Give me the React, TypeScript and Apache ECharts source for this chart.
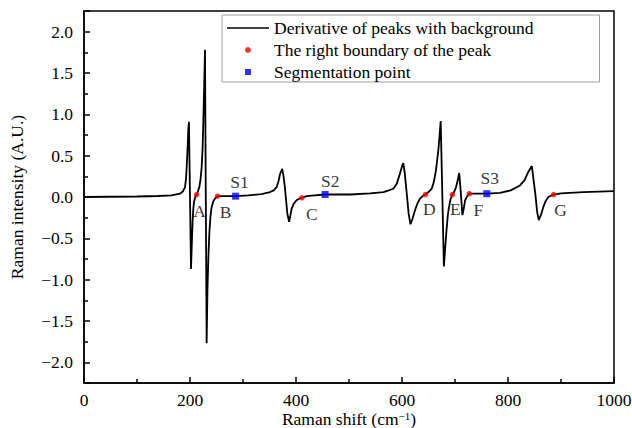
import React, { useEffect, useRef } from "react";
import * as echarts from "echarts";

const FONT = "Liberation Serif";

// Derivative curve (Raman shift, intensity)
const curve: [number, number][] = [
  [0, 0.0], [50, 0.003], [100, 0.006], [140, 0.012], [165, 0.02], [181, 0.04], [187, 0.07],
  [190.6, 0.12], [192.5, 0.22], [193.7, 0.36], [195.5, 0.6], [196.8, 0.81], [198, 0.91],
  [200, 0.0], [201.9, -0.87], [203.5, -0.55], [205, -0.28], [206.3, -0.14], [207.5, -0.06],
  [210, 0.0], [212.6, 0.03], [215, 0.07], [217.6, 0.12], [220, 0.22], [222, 0.36],
  [223.8, 0.6], [225.2, 0.93], [226.8, 1.35], [228.3, 1.78], [229.8, 0.0], [231.4, -1.77],
  [233, -1.1], [234.8, -0.7], [236.5, -0.44], [238.5, -0.24], [240.9, -0.12], [244, -0.05],
  [247, -0.02], [252, 0.01], [270, 0.01], [286, 0.01], [310, 0.02], [335, 0.035], [351, 0.06],
  [358, 0.08], [363.5, 0.12], [367, 0.19], [370, 0.28], [374, 0.34], [376.5, 0.25],
  [379, 0.12], [381.5, -0.05], [383.6, -0.2], [387, -0.3], [389.5, -0.22], [391.8, -0.14],
  [396, -0.08], [401, -0.04], [406, -0.02], [411, -0.01], [420, 0.01], [435, 0.02],
  [455, 0.03], [480, 0.03], [502, 0.03], [540, 0.045], [565, 0.06], [575, 0.08],
  [583.6, 0.1], [590, 0.16], [596, 0.28], [600, 0.37], [602.5, 0.41], [605, 0.3],
  [609, 0.04], [612.5, -0.2], [616, -0.33], [620, -0.26], [624.5, -0.16], [629, -0.08],
  [634, -0.02], [639, 0.01], [644, 0.03], [650, 0.06], [656, 0.1], [660, 0.18], [664, 0.32],
  [668.5, 0.56], [671, 0.75], [673, 0.92], [676, 0.05], [679, -0.84], [681.5, -0.62],
  [684, -0.4], [686.5, -0.22], [688.7, -0.12], [691.5, -0.03], [695, 0.03], [699, 0.07],
  [702, 0.12], [705, 0.2], [708, 0.29], [711, 0.05], [714, -0.22], [716.5, -0.14],
  [719, -0.04], [723, 0.01], [727, 0.04], [740, 0.04], [760, 0.04], [785, 0.05], [805, 0.08],
  [822.6, 0.14], [831, 0.2], [838, 0.3], [845, 0.375], [848, 0.22], [851.5, 0.04],
  [855, -0.18], [858, -0.28], [862, -0.22], [866.7, -0.12], [871, -0.05], [876, 0.0],
  [886, 0.03], [900, 0.045], [942, 0.06], [1000, 0.07],
];

// Right boundaries of peaks
const boundaryNames = ["A", "B", "C", "D", "E", "F", "G"];
const boundaryX = [212.6, 252, 411, 644, 695, 727, 886];
const boundaryY = [0.03, 0.01, -0.01, 0.03, 0.03, 0.04, 0.03];

// Segmentation points
const segNames = ["S1", "S2", "S3"];
const segX = [286, 455, 760];
const segY = [0.01, 0.03, 0.04];

// Label placement (style)
const boundaryLabelOffsets: [number, number][] = [
  [3, 16], [8, 16], [10, 16], [4, 14], [3, 14], [9, 16], [7, 15],
];
const segLabelOffsets: [number, number][] = [[4, -14], [5, -14], [3, -16]];

const SERIES_NAMES = [
  "Derivative of peaks with background",
  "The right boundary of the peak",
  "Segmentation point",
];

const FS = 17.5;

export default function App() {
  const ref = useRef<HTMLDivElement>(null);
  useEffect(() => {
    if (!ref.current) return;
    const chart = echarts.init(ref.current, undefined, { renderer: "svg" });
    const axisCommon = {
      axisLine: { show: true, onZero: false, lineStyle: { color: "#000", width: 1.5 } },
      axisTick: { show: true, inside: true, length: 6, lineStyle: { color: "#000", width: 1.5 } },
      minorTick: { show: true, splitNumber: 2, length: 4, lineStyle: { color: "#000", width: 1.5 } },
      splitLine: { show: false },
    };
    const option: any = {
      animation: false,
      textStyle: { fontFamily: FONT },
      grid: {
        left: 84, right: 18, top: 11, bottom: 45,
        outerBoundsMode: "none",
        containLabel: false,
        show: true, borderColor: "#000", borderWidth: 1.5, backgroundColor: "transparent",
      },
      legend: {
        orient: "vertical",
        left: 222,
        top: 15,
        itemWidth: 42,
        itemHeight: 6,
        itemGap: 4,
        padding: [4, 66, 1, 5],
        backgroundColor: "#fff",
        borderColor: "#a0a0a0",
        borderWidth: 1,
        textStyle: { fontFamily: FONT, fontSize: FS, color: "#000" },
        data: [
          { name: SERIES_NAMES[0], icon: "path://M0,0H42V1.6H0Z" },
          { name: SERIES_NAMES[1], icon: "circle" },
          { name: SERIES_NAMES[2], icon: "path://M0,0H1V1H0Z" },
        ],
      },
      xAxis: {
        type: "value",
        min: 0,
        max: 1000,
        interval: 200,
        name: "Raman shift (cm{sup|−1})",
        nameLocation: "middle",
        nameGap: 27,
        nameMoveOverlap: false,
        nameTextStyle: {
          fontFamily: FONT, fontSize: FS, color: "#000",
          rich: { sup: { fontFamily: FONT, fontSize: 11, verticalAlign: "top", color: "#000" } },
        },
        axisLabel: {
          color: "#000", fontFamily: FONT, fontSize: FS, margin: 8,
          formatter: (v: number) => String(v),
        },
        ...axisCommon,
      },
      yAxis: {
        type: "value",
        min: -2.25,
        max: 2.25,
        splitNumber: 9,
        name: "Raman intensity (A.U.)",
        nameLocation: "middle",
        nameGap: 58,
        nameMoveOverlap: false,
        nameTextStyle: { fontFamily: FONT, fontSize: FS, color: "#000" },
        axisLabel: {
          color: "#000", fontFamily: FONT, fontSize: FS, margin: 11,
          formatter: (v: number) => {
            if (Math.abs(v * 2 - Math.round(v * 2)) > 1e-6) return "";
            return v.toFixed(1).replace("-", "\u2212");
          },
        },
        ...axisCommon,
      },
      series: [
        {
          name: SERIES_NAMES[0],
          type: "line",
          data: curve,
          symbol: "none",
          lineStyle: { color: "#000", width: 1.8 },
          itemStyle: { color: "#000" },
          z: 2,
        },
        {
          name: SERIES_NAMES[1],
          type: "scatter",
          symbol: "circle",
          symbolSize: 5.5,
          itemStyle: { color: "#ff0000" },
          data: boundaryX.map((x, i) => ({
            name: boundaryNames[i],
            value: [x, boundaryY[i]],
            label: { offset: boundaryLabelOffsets[i] },
          })),
          label: {
            show: true, position: "inside", formatter: "{b}",
            color: "#000", fontFamily: FONT, fontSize: FS,
          },
          z: 3,
        },
        {
          name: SERIES_NAMES[2],
          type: "scatter",
          symbol: "rect",
          symbolSize: 7,
          itemStyle: { color: "#0000ff" },
          data: segX.map((x, i) => ({
            name: segNames[i],
            value: [x, segY[i]],
            label: { offset: segLabelOffsets[i] },
          })),
          label: {
            show: true, position: "inside", formatter: "{b}",
            color: "#000", fontFamily: FONT, fontSize: FS,
          },
          z: 3,
        },
      ],
    };
    chart.setOption(option);
    return () => chart.dispose();
  }, []);
  return (
    <div
      ref={ref}
      style={{ position: "fixed", left: 0, top: 0, width: 632, height: 428, background: "#fff" }}
    />
  );
}
